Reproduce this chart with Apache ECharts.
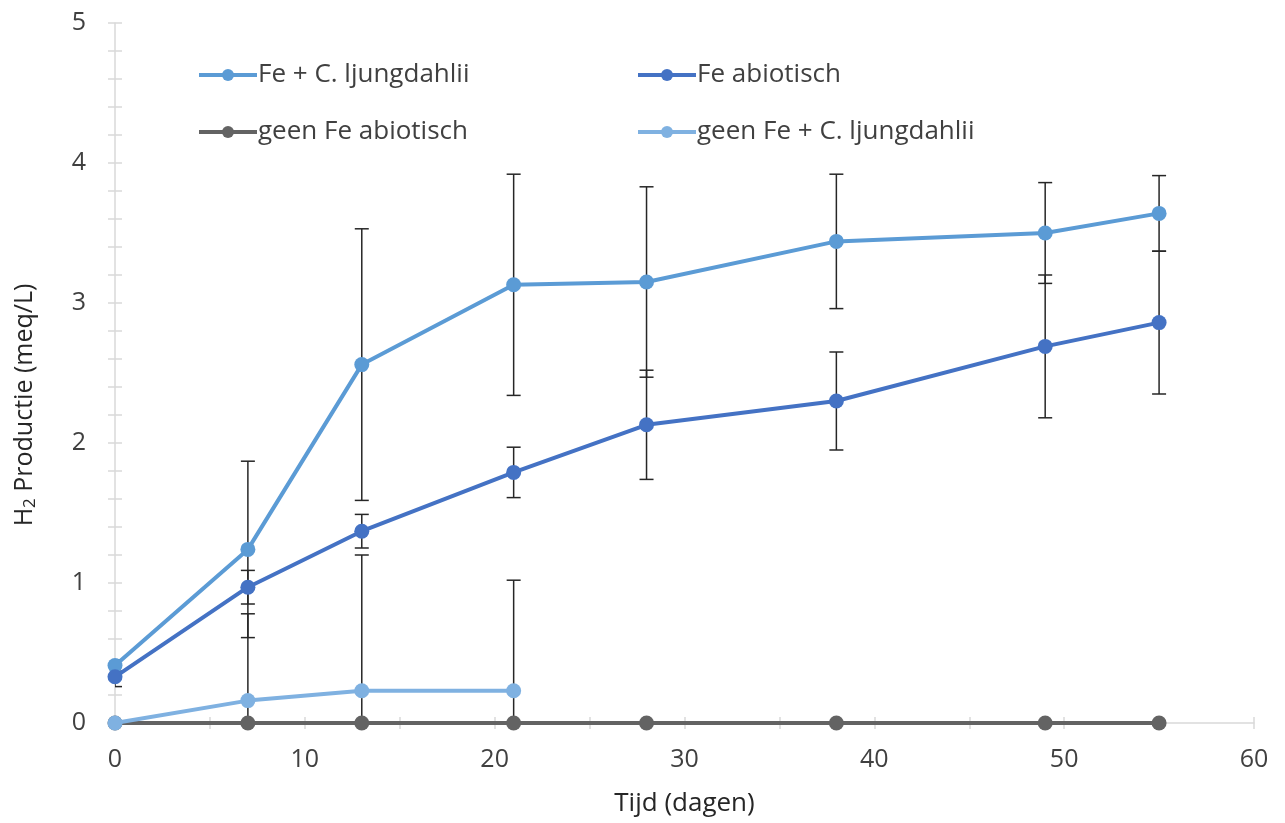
<!DOCTYPE html>
<html>
<head>
<meta charset="utf-8">
<script src="https://cdn.jsdelivr.net/npm/echarts@6/dist/echarts.min.js"></script>
<style>
  html, body { margin: 0; padding: 0; background: #fff; }
  #chart { width: 1285px; height: 823px; }
</style>
</head>
<body>
<div id="chart"></div>
<script>
// tijd (dagen)
const days = [0, 7, 13, 21, 28, 38, 49, 55]
const daysGeen = [0, 7, 13, 21]

// H2 productie (meq/L) + foutbalken
const feC = [0.41, 1.24, 2.56, 3.13, 3.15, 3.44, 3.50, 3.64]
const feCErr = [0.04, 0.63, 0.97, 0.79, 0.68, 0.48, 0.36, 0.27]
const feAbio = [0.33, 0.97, 1.37, 1.79, 2.13, 2.30, 2.69, 2.86]
const feAbioErr = [0.07, 0.12, 0.12, 0.18, 0.39, 0.35, 0.51, 0.51]
const geenAbio = [0, 0, 0, 0, 0, 0, 0, 0]
const geenC = [0, 0.16, 0.23, 0.23]
const geenCErr = [0, 0.62, 0.97, 0.79]

const names = ['Fe + C. ljungdahlii', 'Fe abiotisch', 'geen Fe abiotisch', 'geen Fe + C. ljungdahlii']
const colors = ['#5B9BD5', '#4472C4', '#636363', '#7FB1E1']

const font = 'Open Sans'

const pairs = (xs, ys) => xs.map((x, i) => [x, ys[i]])
const triples = (xs, ys, es) => xs.map((x, i) => [x, ys[i], es[i]])

// foutbalk tekenen (verticale lijn met kapjes)
const renderErr = (params, api) => {
    const x = api.value(0)
    const y = api.value(1)
    const e = api.value(2)
    if (!e) return
    const hi = api.coord([x, y + e])
    const lo = api.coord([x, y - e])
    const cap = 7
    const style = { stroke: '#262626', lineWidth: 1.5 }
    return {
        type: 'group',
        children: [
            { type: 'line', shape: { x1: hi[0], y1: hi[1], x2: lo[0], y2: lo[1] }, style },
            { type: 'line', shape: { x1: hi[0] - cap, y1: hi[1], x2: hi[0] + cap, y2: hi[1] }, style },
            { type: 'line', shape: { x1: lo[0] - cap, y1: lo[1], x2: lo[0] + cap, y2: lo[1] }, style },
        ],
    }
}

const lineSeries = (i, data) => ({
    name: names[i],
    type: 'line',
    data: data,
    symbol: 'circle',
    symbolSize: 15,
    color: colors[i],
    lineStyle: { width: 4, color: colors[i] },
    itemStyle: { color: colors[i] },
    z: 5 + i,
    animation: false,
})

const errSeries = (data) => ({
    type: 'custom',
    renderItem: renderErr,
    data: data,
    clip: true,
    z: 3,
    silent: true,
    animation: false,
})

const tickColor = '#D9D9D9'

const legendBase = {
    orient: 'vertical',
    top: 62,
    padding: 0,
    itemGap: 31,
    itemWidth: 58,
    itemHeight: 15,
    lineStyle: { width: 4 },
    textStyle: { fontFamily: font, fontSize: 26, color: '#404040', padding: [0, 0, 0, -4] },
}

let option = {
    backgroundColor: '#fff',
    textStyle: { fontFamily: font },
    grid: { left: 115, right: 31, top: 23, bottom: 100, outerBoundsMode: 'none' },
    legend: [
        Object.assign({}, legendBase, { data: [names[0], names[2]], left: 197 }),
        Object.assign({}, legendBase, { data: [names[1], names[3]], left: 636 }),
    ],
    xAxis: [
        {
            type: 'value',
            min: 0,
            max: 60,
            interval: 5,
            name: 'Tijd (dagen)',
            nameLocation: 'middle',
            nameGap: 68,
            nameTextStyle: { fontFamily: font, fontSize: 26, color: '#262626' },
            axisLine: { lineStyle: { color: tickColor, width: 1.5 } },
            axisTick: { show: true, length: 6, lineStyle: { color: tickColor, width: 1.5 } },
            axisLabel: {
                margin: 24,
                fontFamily: font,
                fontSize: 25,
                color: '#404040',
                formatter: (v) => (v % 10 === 0 ? String(v) : ''),
            },
            splitLine: { show: false },
        },
        {
            type: 'value',
            min: 0,
            max: 60,
            interval: 5,
            position: 'bottom',
            axisLine: { show: false },
            axisTick: { show: true, inside: true, length: 6, lineStyle: { color: tickColor, width: 1.5 } },
            axisLabel: { show: false },
            splitLine: { show: false },
        },
    ],
    yAxis: [
        {
            type: 'value',
            min: 0,
            max: 5,
            interval: 0.2,
            name: '{n|H}{s|2}{n| Productie (meq/L)}',
            nameLocation: 'middle',
            nameGap: 76,
            nameTextStyle: {
                padding: [0, 64, 0, 0],
                rich: {
                    n: { fontFamily: font, fontSize: 25, color: '#262626' },
                    s: { fontFamily: font, fontSize: 17, color: '#262626', verticalAlign: 'bottom', padding: [12, 0, 0, 0] },
                },
            },
            axisLine: { show: true, lineStyle: { color: tickColor, width: 1.5 } },
            axisTick: { show: true, length: 7, lineStyle: { color: tickColor, width: 1.5 } },
            axisLabel: {
                margin: 29,
                fontFamily: font,
                fontSize: 25,
                color: '#404040',
                formatter: (v) => (Math.abs(v - Math.round(v)) < 1e-6 ? String(Math.round(v)) : ''),
            },
            splitLine: { show: false },
        },
        {
            type: 'value',
            min: 0,
            max: 5,
            interval: 0.2,
            position: 'left',
            axisLine: { show: false },
            axisTick: { show: true, inside: true, length: 7, lineStyle: { color: tickColor, width: 1.5 } },
            axisLabel: { show: false },
            splitLine: { show: false },
        },
    ],
    series: [
        errSeries(triples(days, feC, feCErr)),
        errSeries(triples(days, feAbio, feAbioErr)),
        errSeries(triples(daysGeen, geenC, geenCErr)),
        lineSeries(0, pairs(days, feC)),
        lineSeries(1, pairs(days, feAbio)),
        lineSeries(2, pairs(days, geenAbio)),
        lineSeries(3, pairs(daysGeen, geenC)),
    ],
}

let myChart = echarts.init(document.getElementById('chart'))
myChart.setOption(option)
window.addEventListener('resize', myChart.resize)
</script>
</body>
</html>
